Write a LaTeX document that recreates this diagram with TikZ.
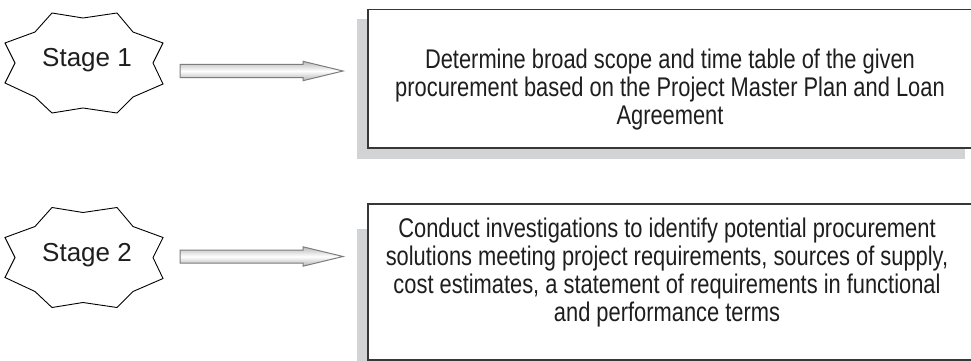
\documentclass[tikz,border=0pt]{standalone}
\usepackage{fontspec}
\setmainfont{Liberation Sans}
\newfontfamily\narrowfont[FakeStretch=0.81]{Liberation Sans}
\definecolor{shadowgray}{RGB}{210,211,213}
\definecolor{borderc}{RGB}{55,55,55}
\definecolor{inkc}{RGB}{30,30,30}
\definecolor{arrowline}{RGB}{125,125,125}
\begin{document}
\begin{tikzpicture}[x=1pt,y=-1pt,
  stagetext/.style={font=\fontsize{26}{30}\selectfont, text=inkc, inner sep=0pt},
  starline/.style={draw=black, line width=0.9pt, line join=miter, fill=white},
  boxshadow/.style={fill=shadowgray, draw=none},
  boxframe/.style={draw=borderc, line width=1.5pt, fill=white, inner sep=0pt, anchor=north west},
  boxtext/.style={font=\narrowfont\fontsize{27}{28}\selectfont, text=inkc, align=center, inner sep=0pt},
  blockarrow/.style={draw=arrowline, line width=1pt, line join=miter, top color=gray!55, bottom color=gray!60, middle color=white}
]
\clip (0,0) rectangle (971,361);
\fill[white] (0,0) rectangle (971,361);
% star outlines
\coordinate (c1) at (84,63);
\coordinate (c2) at (84,257.5);
\foreach \c in {c1,c2}{
  \draw[starline, shift={(\c)}] (-32,-50) -- (-1,-45) -- (33,-50) -- (49,-31) -- (79,-20) -- (69,0) -- (79,21) -- (49,34) -- (33,50) -- (-1,45) -- (-32,50) -- (-49,34) -- (-79,20) -- (-69,0) -- (-79,-20) -- (-49,-31) -- cycle;
}
\node[stagetext] (s1) at (87,60) {Stage 1};
\node[stagetext] (s2) at (87,255) {Stage 2};
% shadows
\fill[boxshadow] (357,19) rectangle (965,159);
\fill[boxshadow] (357,229) rectangle (965,372);
% boxes
\node[boxframe, minimum width=608pt, minimum height=138pt] (b1) at (367,9) {};
\node[boxframe, minimum width=608pt, minimum height=156pt] (b2) at (367,203) {};
% texts
\node[boxtext] (t1) at (670,90) {Determine broad scope and time table of the given\\procurement based on the Project Master Plan and Loan\\Agreement};
\node[boxtext] (t2) at (667,273) {Conduct investigations to identify potential procurement\\solutions meeting project requirements, sources of supply,\\cost estimates, a statement of requirements in functional\\and performance terms};
% block arrows
\coordinate (a1s) at (180,71);
\coordinate (a1e) at (343,71);
\coordinate (a2s) at (180,256.5);
\coordinate (a2e) at (343,256.5);
\foreach \s/\e in {a1s/a1e,a2s/a2e}{
  \draw[blockarrow] ([yshift=6.5pt]\s) -- ([xshift=-40pt,yshift=6.5pt]\e) -- ([xshift=-40pt,yshift=9.7pt]\e) -- (\e)
    -- ([xshift=-40pt,yshift=-9.7pt]\e) -- ([xshift=-40pt,yshift=-6.5pt]\e) -- ([yshift=-6.5pt]\s) -- cycle;
}
\end{tikzpicture}
\end{document}
